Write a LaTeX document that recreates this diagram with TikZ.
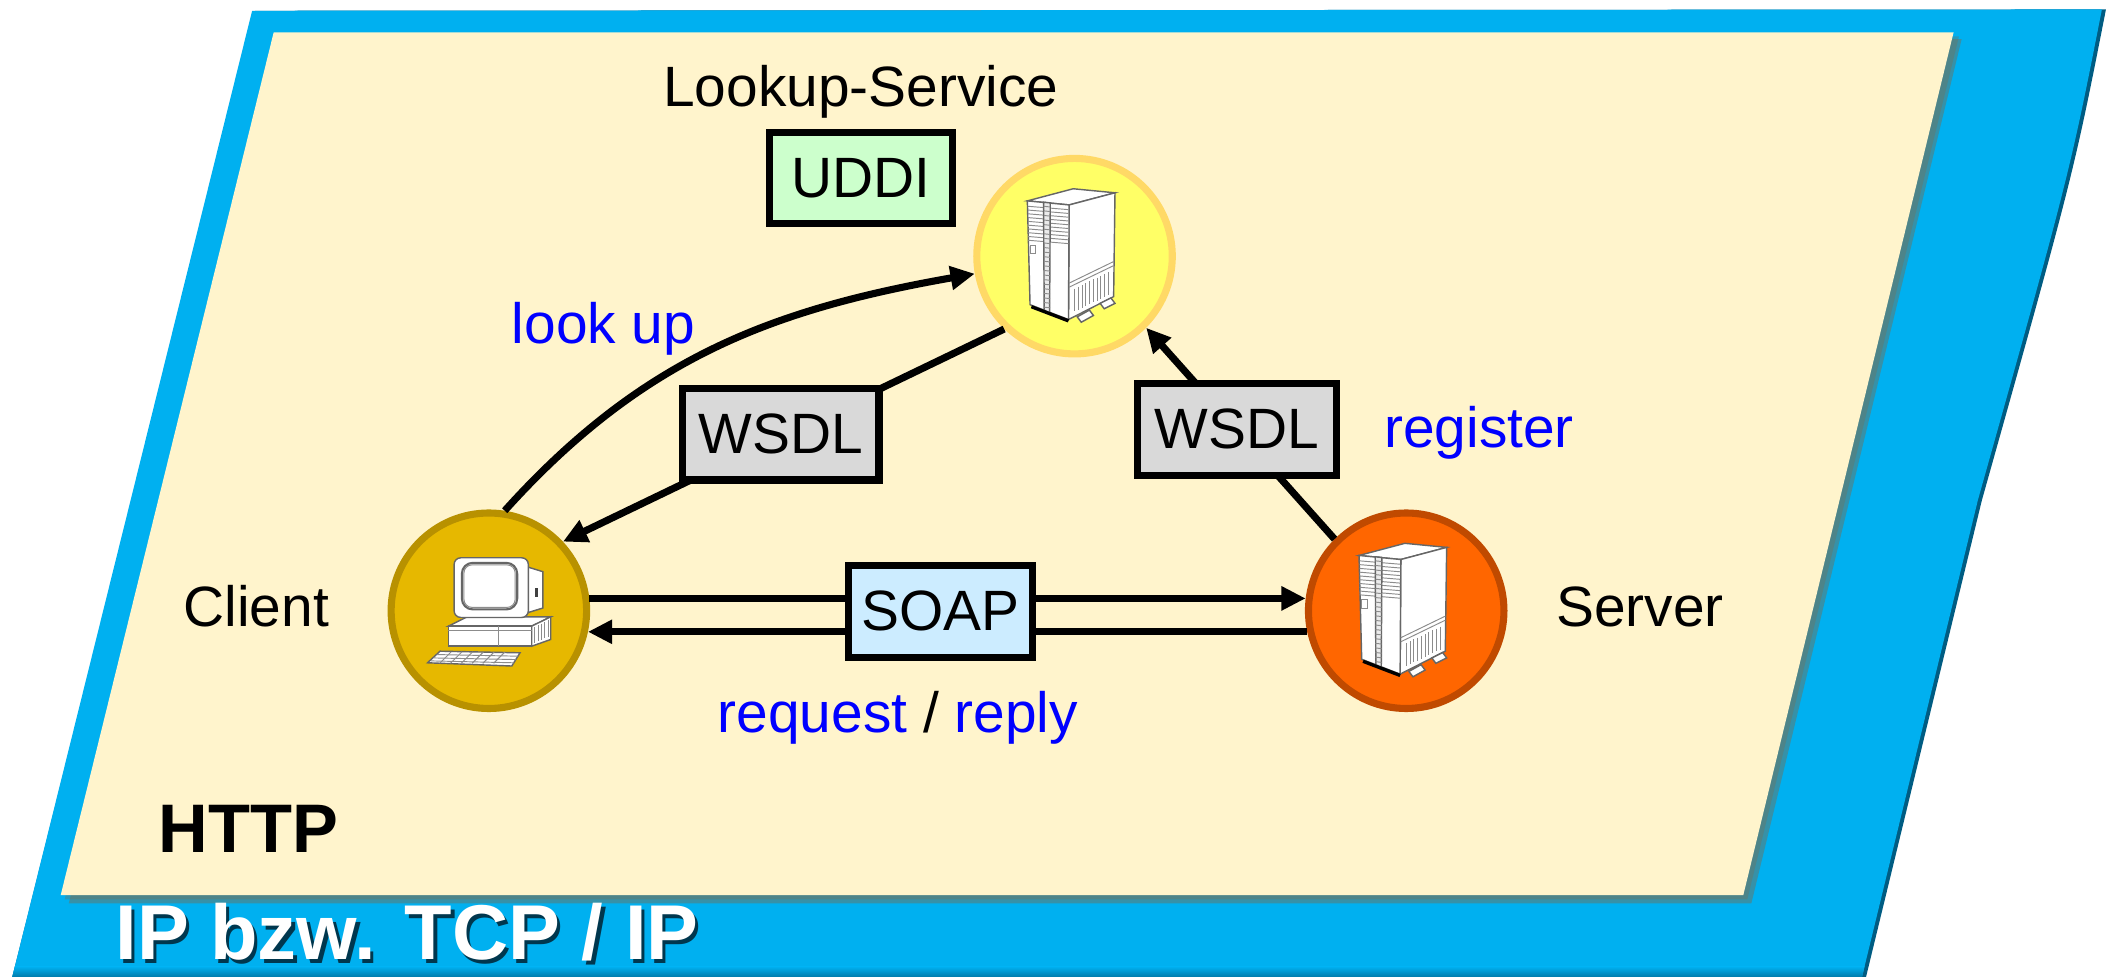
\documentclass[tikz,border=0pt]{standalone}
\usepackage{fontspec}
\setmainfont{Liberation Sans}
\usepackage{xcolor}
\definecolor{layerblue}{RGB}{0,176,240}
\definecolor{layerdeep}{RGB}{0,92,130}
\definecolor{cream}{RGB}{255,244,204}
\definecolor{panelshade}{RGB}{120,108,82}
\definecolor{uddigreen}{RGB}{204,255,204}
\definecolor{wsdlgray}{RGB}{217,217,217}
\definecolor{soapblue}{RGB}{204,236,255}
\definecolor{lookfill}{RGB}{255,255,102}
\definecolor{lookrim}{RGB}{255,217,102}
\definecolor{clientfill}{RGB}{230,184,0}
\definecolor{clientrim}{RGB}{184,145,0}
\definecolor{serverfill}{RGB}{255,102,0}
\definecolor{serverrim}{RGB}{192,74,0}
\definecolor{verb}{RGB}{0,0,255}
\usepackage{tikz}
\usetikzlibrary{arrows.meta}

\tikzset{
  host/.style={circle, minimum size=1.45cm, inner sep=0pt, line width=1.5pt},
  msgbox/.style={draw=black, line width=1.5pt, minimum height=0.68cm, inner sep=0pt,
                 font=\fontsize{12}{14}\selectfont},
  flow/.style={line width=1.5pt, -{Triangle[length=1.8mm,width=1.7mm]}},
  lbl/.style={font=\fontsize{12}{14}\selectfont, inner sep=0pt},
  verblbl/.style={lbl, text=verb},
  layertxt/.style={font=\fontsize{16.4}{18}\selectfont\bfseries, inner sep=0pt},
  face/.style={fill=white, draw=black!60, line width=0.3pt},
  vent/.style={draw=black!45, line width=0.2pt},
}

%% tower server, drawn round a given centre
\newcommand{\towericon}[1]{%
  \begin{scope}[shift={(#1)}]
    \filldraw[face] (-0.35,0.41) -- (-0.04,0.38) -- (0.30,0.47) -- (-0.01,0.50) -- cycle;
    \filldraw[face] (-0.04,0.38) -- (0.30,0.47) -- (0.29,-0.30) -- (-0.045,-0.47) -- cycle;
    \filldraw[face] (-0.35,0.41) -- (-0.04,0.38) -- (-0.045,-0.47) -- (-0.33,-0.36) -- cycle;
    % vents
    \foreach \v in {0,...,9}
      \draw[vent] (-0.345,0.37-\v*0.028) -- (-0.045,0.345-\v*0.028);
    \filldraw[face, fill=black!8] (-0.23,0.40) -- (-0.18,0.395) -- (-0.185,-0.42) -- (-0.225,-0.40) -- cycle;
    \foreach \v in {0,...,22}
      \draw[vent] (-0.228,0.37-\v*0.034) -- (-0.182,0.365-\v*0.034);
    \draw[vent] (-0.33,0.08) rectangle (-0.29,0.02);
    % side panel and slits
    \draw[vent] (-0.04,-0.20) -- (0.29,-0.04);
    \draw[vent] (-0.04,-0.23) -- (0.29,-0.07);
    \foreach \s in {0,...,9}
      \draw[vent] (0.0+\s*0.028,-0.24+\s*0.0135) -- (0.0+\s*0.028,-0.41+\s*0.0135);
    % feet
    \filldraw[face] (0.02,-0.45) -- (0.11,-0.40) -- (0.14,-0.44) -- (0.05,-0.49) -- cycle;
    \filldraw[face] (0.19,-0.35) -- (0.27,-0.31) -- (0.30,-0.35) -- (0.22,-0.39) -- cycle;
    \draw[black, line width=0.7pt] (-0.32,-0.375) -- (-0.045,-0.48);
  \end{scope}}

%% desktop pc, drawn round a given centre
\newcommand{\pcicon}[1]{%
  \begin{scope}[shift={(#1)}]
    % keyboard
    \filldraw[face] (-0.362,-0.300) -- (0.231,-0.312) -- (0.170,-0.410) -- (-0.455,-0.386) -- cycle;
    \draw[vent] (-0.385,-0.325) -- (0.215,-0.337);
    \draw[vent] (-0.41,-0.350) -- (0.200,-0.362);
    \draw[vent] (-0.43,-0.372) -- (0.185,-0.386);
    \foreach \x in {-0.28,-0.20,...,0.16}
      \draw[vent] (\x,-0.305) -- (\x-0.085,-0.39);
    % system unit
    \filldraw[face] (-0.30,-0.114) -- (0.318,-0.114) -- (0.459,-0.045) -- (-0.16,-0.045) -- cycle;
    \filldraw[face] (-0.30,-0.114) rectangle (0.318,-0.263);
    \filldraw[face] (0.318,-0.114) -- (0.459,-0.045) -- (0.459,-0.213) -- (0.318,-0.263) -- cycle;
    \draw[vent] (0.07,-0.114) -- (0.07,-0.263);
    \draw[vent] (-0.30,-0.15) -- (0.318,-0.15);
    \foreach \s in {0,...,4}
      \draw[vent] (0.34+\s*0.025,-0.12+\s*0.012) -- (0.34+\s*0.025,-0.24+\s*0.012);
    % monitor
    \filldraw[face] (0.27,0.33) -- (0.40,0.29) -- (0.40,0.02) -- (0.27,-0.02) -- cycle;
    \fill[black!75] (0.345,0.10) rectangle (0.362,0.17);
    \filldraw[face, rounded corners=0.5mm] (-0.258,-0.05) rectangle (0.293,0.393);
    \filldraw[face, rounded corners=0.8mm, line width=0.45pt] (-0.20,0.01) rectangle (0.21,0.355);
    \draw[vent, rounded corners=0.6mm] (-0.185,0.025) rectangle (0.195,0.34);
  \end{scope}}

\begin{document}
\begin{tikzpicture}
  \useasboundingbox (0,0) rectangle (15.68,7.24);
  %% IP layer
  \fill[layerdeep] (1.89,7.16) -- (15.62,7.17) .. controls (15.38,5.95) .. (14.70,3.53)
    -- (13.83,-0.05) -- (0.08,-0.05) -- cycle;
  \fill[layerblue] (1.87,7.16) -- (15.59,7.17) .. controls (15.35,5.95) .. (14.67,3.53)
    -- (13.80,-0.05) -- (0.08,-0.05) -- cycle;
  \begin{scope}
    \clip (1.87,7.16) -- (15.59,7.17) .. controls (15.35,5.95) .. (14.67,3.53)
      -- (13.80,-0.05) -- (0.08,-0.05) -- cycle;
    \shade[top color=layerblue, bottom color=layerdeep] (0,-0.05) rectangle (15.7,0.07);
  \end{scope}
  %% HTTP layer
  \fill[panelshade, opacity=0.45] (2.09,6.95) -- (14.55,6.95) -- (12.99,0.54) -- (0.51,0.54) -- cycle;
  \fill[panelshade, opacity=0.35] (2.07,6.97) -- (14.53,6.97) -- (12.96,0.57) -- (0.48,0.57) -- cycle;
  \fill[cream] (2.03,7.00) -- (14.49,7.00) -- (12.93,0.60) -- (0.45,0.60) -- cycle;

  \node[layertxt, text=layerdeep!60!black, anchor=base west] (ipshade) at (0.875,0.095) {IP bzw. TCP / IP};
  \node[layertxt, text=white, anchor=base west] (ip) at (0.85,0.12) {IP bzw. TCP / IP};
  \node[font=\fontsize{14.5}{17}\selectfont\bfseries, inner sep=0pt, anchor=base west]
    (http) at (1.17,0.92) {HTTP};

  %% hosts
  \node[host, fill=lookfill, draw=lookrim] (lookup) at (7.97,5.34) {};
  \node[host, fill=clientfill, draw=clientrim] (client) at (3.626,2.71) {};
  \node[host, fill=serverfill, draw=serverrim] (server) at (10.43,2.71) {};
  \towericon{7.97,5.34}
  \towericon{10.43,2.71}
  \pcicon{3.626,2.71}

  \node[lbl, anchor=base] (lookuplbl) at (6.385,6.45) {Lookup-Service};
  \node[lbl, anchor=base] (clientlbl) at (1.90,2.59) {Client};
  \node[lbl, anchor=base] (serverlbl) at (12.165,2.59) {Server};

  %% messages
  \draw[flow] (client.81) to[out=48, in=190] (lookup.190);
  \draw[flow] (lookup.226) -- (client.43);
  \draw[flow] (server.135) -- (lookup.315);
  \draw[flow] (client.7) -- (server.173);
  \draw[flow] (server.192) -- (client.-12);

  \node[msgbox, fill=uddigreen, minimum width=1.36cm] (uddi) at (6.385,5.92) {UDDI};
  \node[msgbox, fill=wsdlgray, minimum width=1.46cm] (wsdlget) at (5.79,4.02) {WSDL};
  \node[msgbox, fill=wsdlgray, minimum width=1.47cm] (wsdlput) at (9.175,4.055) {WSDL};
  \node[msgbox, fill=soapblue, minimum width=1.36cm] (soap) at (6.975,2.705) {SOAP};

  \node[verblbl, anchor=base west] (lookuptxt) at (3.79,4.69) {look up};
  \node[verblbl, anchor=base west] (registertxt) at (10.26,3.92) {register};
  \node[lbl, anchor=base] (reqrep) at (6.66,1.81)
    {\textcolor{verb}{request} / \textcolor{verb}{reply}};
\end{tikzpicture}
\end{document}
